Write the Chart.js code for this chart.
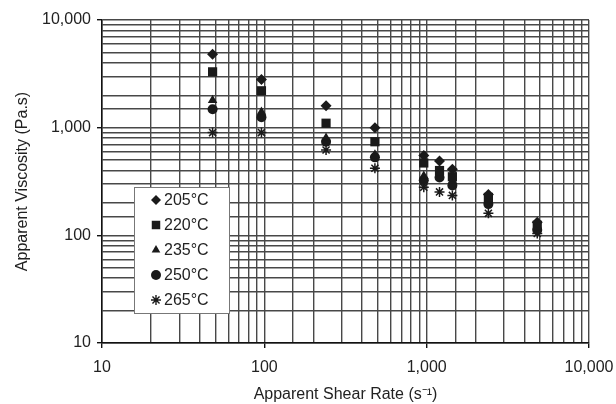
<!DOCTYPE html>
<html>
<head>
<meta charset="utf-8">
<script src="https://cdn.jsdelivr.net/npm/chart.js@4/dist/chart.umd.min.js"></script>
<style>
  html, body { margin: 0; padding: 0; background: #fff; }
  #wrap { width: 616px; height: 404px; }
</style>
</head>
<body>
<div id="wrap"><canvas id="viscChart" width="616" height="404"></canvas></div>
<script>
// shear rates (1/s) and apparent viscosity (Pa.s) per melt temperature
const shearRates = [48, 96, 240, 480, 960, 1200, 1440, 2400, 4800];
const visc205 = [4800, 2800, 1600, 1000, 550, 490, 410, 240, 132];
const visc220 = [3300, 2200, 1100, 740, 470, 400, 350, 225, 124];
const visc235 = [1800, 1400, 800, 560, 355, 370, 320, 210, 118];
const visc250 = [1480, 1250, 740, 530, 325, 345, 290, 195, 112];
const visc265 = [900, 900, 620, 420, 280, 253, 235, 160, 104];

const seriesLabels = ['205°C', '220°C', '235°C', '250°C', '265°C'];
const seriesValues = [visc205, visc220, visc235, visc250, visc265];
const markers = ['rectRot', 'rect', 'triangle', 'circle', 'star'];
const markerSize = [5.5, 6.5, 5.5, 5, 5];
const majorTicks = [10, 100, 1000, 10000];

const ink = '#1a1a1a';
const gridColor = '#484848';
const fontFamily = '"Liberation Sans", Arial, sans-serif';

const datasets = seriesValues.map((vals, i) => ({
    label: seriesLabels[i],
    data: shearRates.map((x, j) => ({ x: x, y: vals[j] })),
    pointStyle: markers[i],
    pointRadius: markerSize[i],
    pointBackgroundColor: ink,
    pointBorderColor: ink,
    pointBorderWidth: markers[i] === 'star' ? 1.5 : 0,
    showLine: false
}));

function isMajor(v) {
    return majorTicks.indexOf(Math.round(v)) !== -1;
}

// legend box drawn inside the plot area
const boxLegend = {
    id: 'boxLegend',
    afterDraw(chart) {
        const ctx = chart.ctx;
        const x0 = 134, y0 = 187, w = 95, h = 126;
        ctx.save();
        ctx.fillStyle = '#fff';
        ctx.fillRect(x0, y0, w, h);
        ctx.strokeStyle = '#777';
        ctx.lineWidth = 1;
        ctx.strokeRect(x0 + 0.5, y0 + 0.5, w, h);
        ctx.font = '16px ' + fontFamily;
        ctx.textBaseline = 'middle';
        seriesLabels.forEach((lab, i) => {
            const y = y0 + 13 + i * 25;
            ctx.fillStyle = ink;
            ctx.strokeStyle = ink;
            ctx.lineWidth = 1.4;
            Chart.helpers.drawPoint(ctx, {
                pointStyle: markers[i],
                radius: markers[i] === 'rect' ? 6 : 5,
                rotation: 0,
                borderWidth: markers[i] === 'star' ? 1.4 : 0
            }, x0 + 22, y);
            ctx.fillStyle = '#222';
            ctx.fillText(lab, x0 + 30, y + 1);
        });
        ctx.restore();
    }
};

new Chart(document.getElementById('viscChart'), {
    type: 'scatter',
    data: { datasets: datasets },
    options: {
        responsive: false,
        animation: false,
        layout: { padding: { left: 0, right: 27, top: 20, bottom: 0 } },
        plugins: {
            legend: { display: false },
            tooltip: { enabled: false }
        },
        scales: {
            x: {
                type: 'logarithmic',
                min: 10,
                max: 10000,
                afterFit(scale) {
                    scale.height = 61;
                    scale.paddingLeft = 0;
                    scale.paddingRight = 0;
                },
                border: { color: '#111', width: 1.5 },
                grid: {
                    color: gridColor,
                    lineWidth: 1.4,
                    tickLength: 5,
                    tickColor: ctx => isMajor(ctx.tick.value) ? '#111' : 'rgba(0,0,0,0)'
                },
                ticks: {
                    autoSkip: false,
                    maxRotation: 0,
                    padding: 10,
                    color: '#222',
                    font: { family: fontFamily, size: 16 },
                    callback: v => isMajor(v) ? Math.round(v).toLocaleString('en-US') : ''
                },
                title: {
                    display: true,
                    text: 'Apparent Shear Rate (s⁻¹)',
                    color: '#222',
                    padding: { top: 0, bottom: 0 },
                    font: { family: fontFamily, size: 16 }
                }
            },
            y: {
                type: 'logarithmic',
                min: 10,
                max: 10000,
                afterFit(scale) {
                    scale.width = 102;
                    scale.paddingTop = 0;
                    scale.paddingBottom = 0;
                },
                border: { color: '#111', width: 1.5 },
                grid: {
                    color: gridColor,
                    lineWidth: 1.4,
                    tickLength: 5,
                    tickColor: ctx => isMajor(ctx.tick.value) ? '#111' : 'rgba(0,0,0,0)'
                },
                ticks: {
                    autoSkip: false,
                    padding: 6,
                    color: '#222',
                    font: { family: fontFamily, size: 16 },
                    callback: v => isMajor(v) ? Math.round(v).toLocaleString('en-US') : ''
                },
                title: {
                    display: true,
                    text: 'Apparent Viscosity (Pa.s)',
                    color: '#222',
                    padding: { top: 13, bottom: 0 },
                    font: { family: fontFamily, size: 16 }
                }
            }
        }
    },
    plugins: [boxLegend]
});
</script>
</body>
</html>
